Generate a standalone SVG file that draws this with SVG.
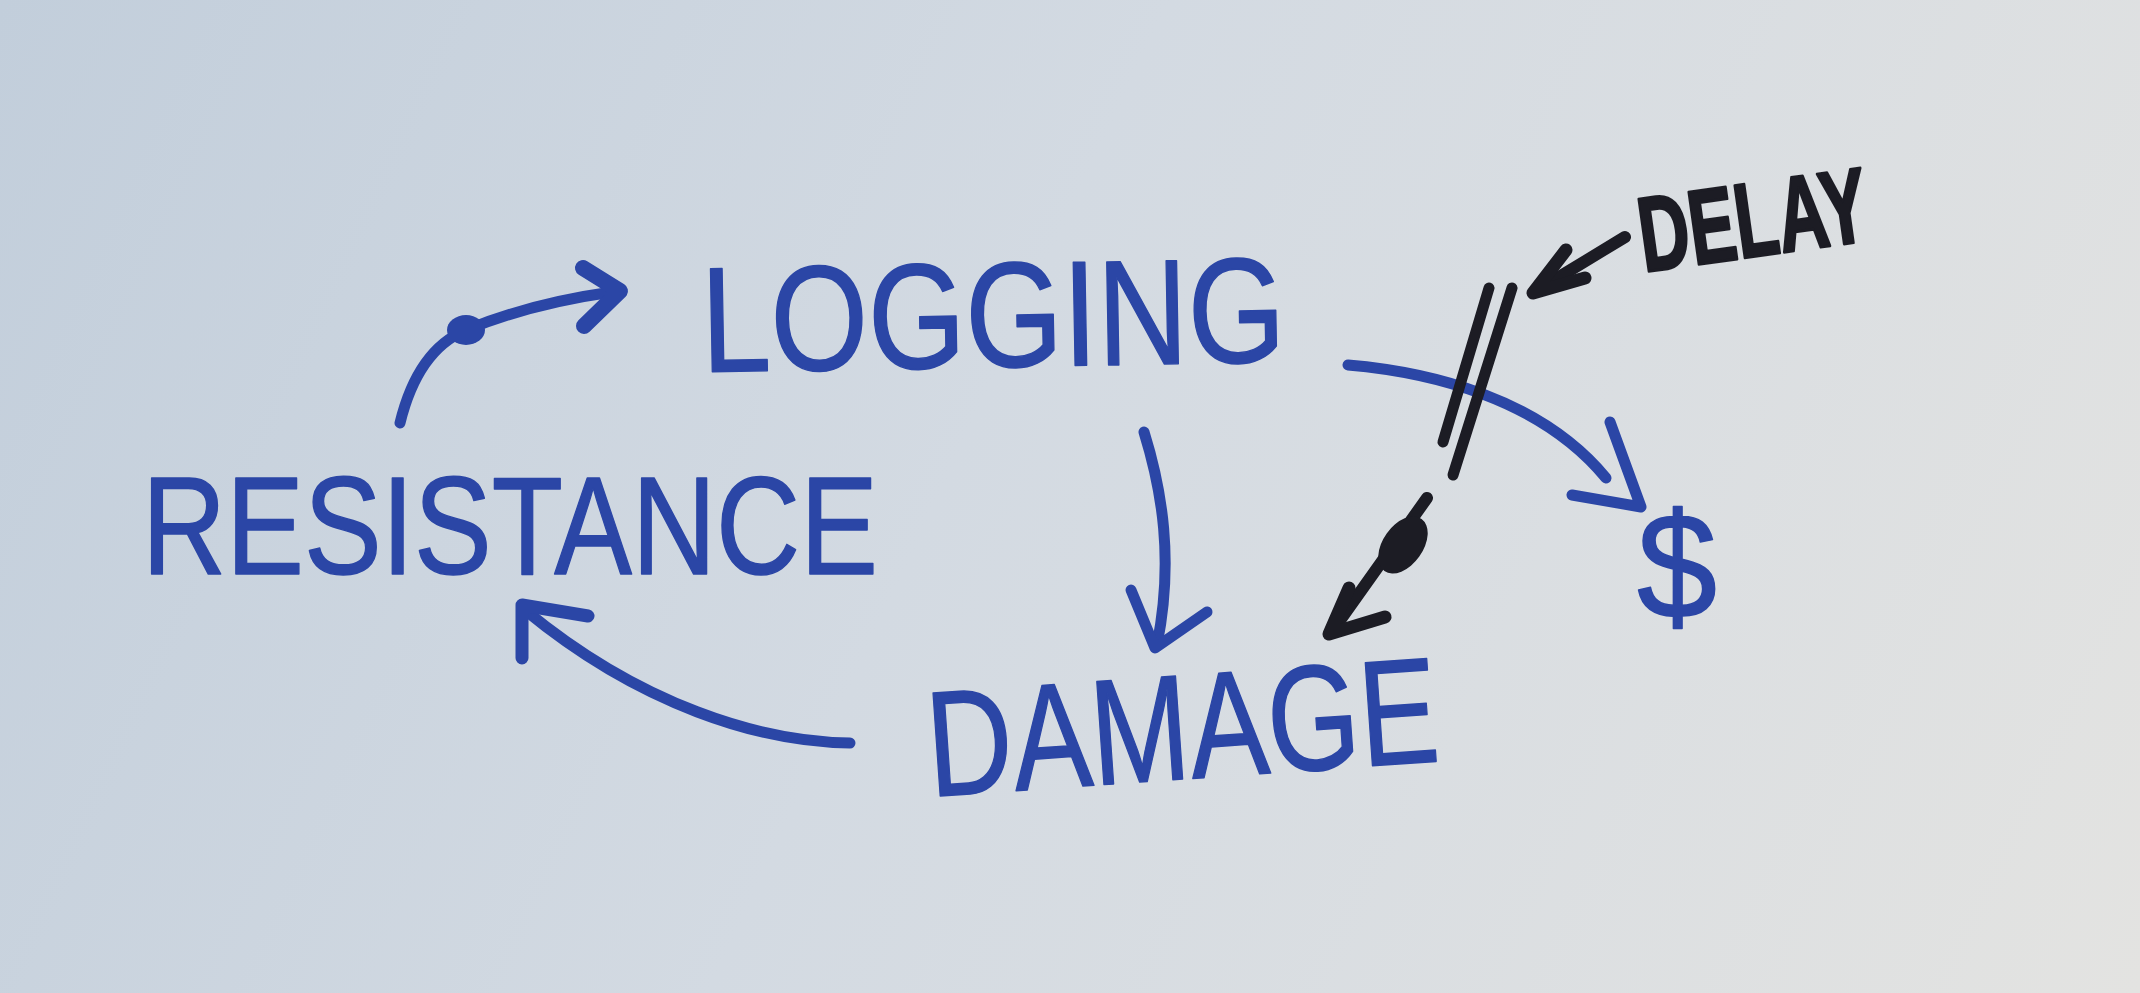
<svg xmlns="http://www.w3.org/2000/svg" width="2140" height="993" viewBox="0 0 2140 993">
  <defs>
    <linearGradient id="paper" gradientUnits="userSpaceOnUse" x1="0" y1="0" x2="2140" y2="993">
      <stop offset="0" stop-color="#c2cedb"/>
      <stop offset="0.45" stop-color="#d3dae2"/>
      <stop offset="1" stop-color="#e3e3e1"/>
    </linearGradient>
    <style>
      .blue { fill: #2b46a6; stroke: #2b46a6; stroke-width: 1.5; stroke-linejoin: round; font-family: "Liberation Sans", Arial, sans-serif; }
      .black { fill: #1c1c24; stroke: #1c1c24; stroke-width: 3; stroke-linejoin: round; font-family: "Liberation Sans", Arial, sans-serif; font-weight: bold; }
      .bl { fill: none; stroke: #2b46a6; stroke-width: 11; stroke-linecap: round; stroke-linejoin: round; }
      .bk { fill: none; stroke: #1c1c24; stroke-width: 12; stroke-linecap: round; stroke-linejoin: round; }
    </style>
  </defs>
  <rect x="0" y="0" width="2140" height="993" fill="url(#paper)"/>

  <g id="node-logging">
    <text class="blue" x="702" y="367" font-size="150" textLength="584" lengthAdjust="spacingAndGlyphs" transform="rotate(-1 995 367)">LOGGING</text>
  </g>
  <g id="node-resistance">
    <text class="blue" x="142" y="574" font-size="140" textLength="736" lengthAdjust="spacingAndGlyphs">RESISTANCE</text>
  </g>
  <g id="node-damage">
    <text class="blue" x="930" y="779" font-size="150" textLength="512" lengthAdjust="spacingAndGlyphs" transform="rotate(-4 1185 779)">DAMAGE</text>
  </g>
  <g id="node-dollar">
    <text class="blue" x="1677" y="618" font-size="150" text-anchor="middle" textLength="80" lengthAdjust="spacingAndGlyphs">$</text>
  </g>
  <g id="node-delay">
    <text class="black" x="1644" y="272" font-size="106" textLength="230" lengthAdjust="spacingAndGlyphs" transform="rotate(-8 1644 272)">DELAY</text>
  </g>

  <g id="connectors">
    <!-- Resistance -> Logging -->
    <path class="bl" d="M400,423 C410,382 430,345 466,330 C505,314 555,300 612,292"/>
    <ellipse cx="466" cy="330" rx="19" ry="15" fill="#2b46a6"/>
    <polyline class="bl" style="stroke-width:16" points="583,268 620,291 584,326"/>
    <!-- Logging -> Damage -->
    <path class="bl" d="M1144,432 C1162,490 1174,560 1157,645"/>
    <polyline class="bl" points="1131,590 1155,648 1207,612"/>
    <!-- Damage -> Resistance -->
    <path class="bl" d="M850,743 C760,742 640,705 525,610"/>
    <polyline class="bl" style="stroke-width:13" points="522,658 522,605 588,616"/>
    <!-- Logging -> $ (with delay) -->
    <path class="bl" d="M1348,365 C1430,372 1540,398 1606,478"/>
    <polyline class="bl" points="1610,422 1641,507 1572,495"/>
    <!-- delay bars -->
    <line class="bk" style="stroke-width:11" x1="1489" y1="288" x2="1443" y2="442"/>
    <line class="bk" style="stroke-width:11" x1="1512" y1="288" x2="1453" y2="475"/>
    <!-- DELAY pointer -->
    <line class="bk" x1="1625" y1="237" x2="1536" y2="291"/>
    <polyline class="bk" style="stroke-width:13" points="1566,250 1533,293 1585,278"/>
    <!-- black arrow to Damage -->
    <line class="bk" x1="1427" y1="498" x2="1331" y2="633"/>
    <ellipse cx="1403" cy="545" rx="32" ry="20" fill="#1c1c24" transform="rotate(-54.5 1403 545)"/>
    <polyline class="bk" style="stroke-width:13" points="1349,588 1329,634 1385,617"/>
  </g>
</svg>
